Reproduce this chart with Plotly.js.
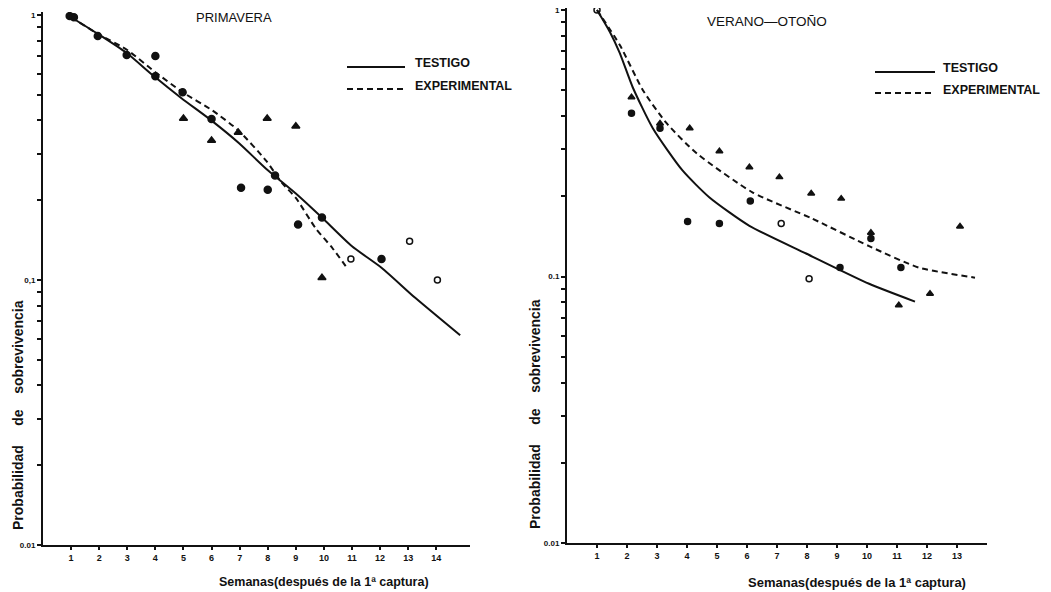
<!DOCTYPE html>
<html><head><meta charset="utf-8">
<script src="https://cdn.plot.ly/plotly-3.0.1.min.js"></script>
<style>html,body{margin:0;padding:0;background:#fff}#c{width:1051px;height:592px}</style>
</head><body><div id="c"></div>
<script>
// ---- PRIMAVERA (left) ----
const testigoL_x = [1.0,1.9,2.98,3.9,4.93,5.99,6.98,7.94,9.0,9.93,11.0,12.06,13.25,14.85];
const testigoL_y = [0.98,0.855,0.718,0.593,0.485,0.40,0.328,0.263,0.212,0.172,0.134,0.111,0.0856,0.0618];
const expL_x = [1.0,1.9,3.0,4.0,4.97,6.03,6.95,7.94,8.5,9.0,9.7,10.3,10.85];
const expL_y = [0.98,0.855,0.737,0.608,0.511,0.436,0.367,0.282,0.233,0.204,0.157,0.132,0.110];
const circL_x = [0.95,1.1,1.95,2.98,4.0,4.0,4.97,6.0,7.05,8.0,8.26,9.08,9.93,12.05];
const circL_y = [0.99,0.98,0.833,0.706,0.70,0.587,0.511,0.405,0.223,0.219,0.248,0.162,0.172,0.12];
const triL_x = [5.0,6.0,6.95,7.98,9.0,9.93];
const triL_y = [0.407,0.336,0.36,0.407,0.38,0.102];
const openL_x = [10.96,13.05,14.04];
const openL_y = [0.12,0.14,0.1];
const weeksL = [1,2,3,4,5,6,7,8,9,10,11,12,13,14];
const weeksL_text = ['1','2','3','4','5','6','7','8','9','10','11','12','13','14'];

// ---- VERANO-OTOÑO (right) ----
const testigoR_x = [1.0,1.43,1.76,2.19,2.86,3.85,4.75,6.08,7.97,10.07,11.6];
const testigoR_y = [1.0,0.827,0.689,0.513,0.36,0.25,0.198,0.155,0.122,0.0939,0.0805];
const expR_x = [1.0,1.76,2.53,3.32,4.32,6.18,8.17,10.07,11.73,13.6];
const expR_y = [1.0,0.739,0.50,0.376,0.29,0.207,0.165,0.13,0.108,0.099];
const triR_x = [2.15,3.1,4.09,5.08,6.08,7.08,8.14,9.14,10.13,11.06,12.1,13.1];
const triR_y = [0.471,0.375,0.36,0.295,0.257,0.236,0.205,0.196,0.146,0.078,0.0862,0.154];
const circR_x = [2.15,3.1,4.02,5.08,6.11,9.1,10.13,11.13];
const circR_y = [0.41,0.36,0.161,0.158,0.192,0.108,0.139,0.108];
const openR_x = [1.0,7.14,8.07];
const openR_y = [1.0,0.158,0.098];
const weeksR = [1,2,3,4,5,6,7,8,9,10,11,12,13];
const weeksR_text = ['1','2','3','4','5','6','7','8','9','10','11','12','13'];

const yTickVals = [0.01,0.02,0.03,0.04,0.05,0.06,0.07,0.08,0.09,0.1,0.2,0.3,0.4,0.5,0.6,0.7,0.8,0.9,1];
const yTickTextL = ['0.01','','','','','','','','','0,1','','','','','','','','','1'];
const yTickTextR = ['0.01','','','','','','','','','0.1','','','','','','','','','1'];

const titles = ['PRIMAVERA','VERANO\u2014OTOÑO'];
const legendNames = ['TESTIGO','EXPERIMENTAL'];
const xTitle = 'Semanas(después de la 1ª captura)';
const yTitle = 'Probabilidad&nbsp;&nbsp;&nbsp;&nbsp;&nbsp;de&nbsp;&nbsp;&nbsp;&nbsp;sobrevivencia';

const K = '#111';
function line(x,y,xa,ya,dash){return {x:x,y:y,xaxis:xa,yaxis:ya,mode:'lines',type:'scatter',line:{color:K,width:2,dash:dash,shape:'spline',smoothing:0.6},hoverinfo:'skip',showlegend:false};}
function pts(x,y,xa,ya,sym,size){return {x:x,y:y,xaxis:xa,yaxis:ya,mode:'markers',type:'scatter',marker:{symbol:sym,size:size,color:K,line:{color:K,width:1.5}},showlegend:false};}

const data = [
  line(testigoL_x,testigoL_y,'x','y','solid'),
  line(expL_x,expL_y,'x','y','6px,4px'),
  pts(circL_x,circL_y,'x','y','circle',7),
  pts(triL_x,triL_y,'x','y','triangle-up',7),
  pts(openL_x,openL_y,'x','y','circle-open',6),
  line(testigoR_x,testigoR_y,'x2','y2','solid'),
  line(expR_x,expR_y,'x2','y2','6px,4px'),
  pts(triR_x,triR_y,'x2','y2','triangle-up',6),
  pts(circR_x,circR_y,'x2','y2','circle',6),
  pts(openR_x,openR_y,'x2','y2','circle-open',6)
];

const F = 'Liberation Sans, Arial, sans-serif';
const tickFont = {family:F,size:9,color:K,weight:'bold'};
function xax(dom,rng,vals,txt){return {domain:dom,range:rng,tickmode:'array',tickvals:vals,ticktext:txt,ticks:'outside',ticklen:3,tickwidth:2,tickcolor:K,showline:true,linewidth:2,linecolor:K,showgrid:false,zeroline:false,tickfont:tickFont,fixedrange:true};}
function yax(dom,rng,anchor,txt){return {type:'log',domain:dom,range:rng,anchor:anchor,tickmode:'array',tickvals:yTickVals,ticktext:txt,ticks:'outside',ticklen:4,tickwidth:2,tickcolor:K,showline:true,linewidth:2,linecolor:K,showgrid:false,zeroline:false,tickfont:{family:F,size:8,color:K,weight:'bold'},fixedrange:true};}

const H = 592, W = 1051;
const px = v => v/W, py = v => 1 - v/H;
function ann(text,x,y,size,weight,extra){return Object.assign({text:text,x:px(x),y:py(y),xref:'paper',yref:'paper',xanchor:'center',yanchor:'middle',showarrow:false,font:{family:F,size:size,color:K,weight:weight}},extra||{});}

const layout = {
  width:W,height:H,margin:{l:0,r:0,t:0,b:0},paper_bgcolor:'#fff',plot_bgcolor:'#fff',showlegend:false,
  xaxis: xax([px(43),px(470)],[0,15.2],weeksL,weeksL_text),
  yaxis: yax([py(545),py(12)],[-2,0.011],'x',yTickTextL),
  xaxis2: Object.assign(xax([px(567),px(987)],[0,14],weeksR,weeksR_text),{anchor:'y2'}),
  yaxis2: yax([py(543),py(8)],[-2,0.0075],'x2',yTickTextR),
  annotations:[
    ann(titles[0],234,18,13,'normal'),
    ann(titles[1],767,21,13.5,'normal'),
    ann(xTitle,324,582,12.5,'bold'),
    ann(xTitle,857,582,13,'bold'),
    ann(yTitle,18,415,14,'bold',{textangle:-90}),
    ann(yTitle,535,414,14,'bold',{textangle:-90}),
    ann(legendNames[0],413,63,12.5,'bold',{xanchor:'left'}),
    ann(legendNames[1],413,86,12.5,'bold',{xanchor:'left'}),
    ann(legendNames[0],941,68,12.5,'bold',{xanchor:'left'}),
    ann(legendNames[1],941,90,12.5,'bold',{xanchor:'left'})
  ],
  shapes:[
    {type:'line',xref:'paper',yref:'paper',x0:px(347),x1:px(405),y0:py(67),y1:py(67),line:{color:K,width:2}},
    {type:'line',xref:'paper',yref:'paper',x0:px(347),x1:px(405),y0:py(89),y1:py(89),line:{color:K,width:2,dash:'6px,4px'}},
    {type:'line',xref:'paper',yref:'paper',x0:px(875),x1:px(935),y0:py(72),y1:py(72),line:{color:K,width:2}},
    {type:'line',xref:'paper',yref:'paper',x0:px(875),x1:px(935),y0:py(93),y1:py(93),line:{color:K,width:2,dash:'6px,4px'}}
  ]
};
Plotly.newPlot('c',data,layout,{displayModeBar:false,staticPlot:true});
</script></body></html>
